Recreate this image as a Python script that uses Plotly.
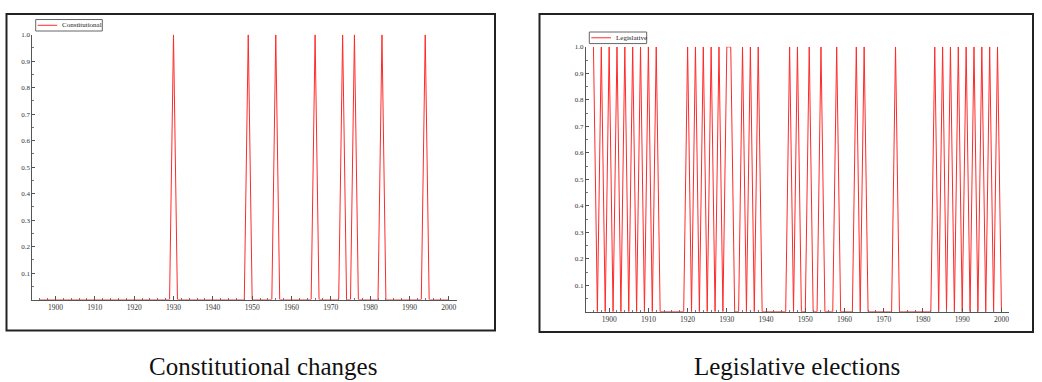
import plotly.graph_objects as go

W, H = 1042, 382

years = list(range(1896, 2001))

constitutional = [
    0, 0, 0, 0,                          # 1896-1899
    0, 0, 0, 0, 0, 0, 0, 0, 0, 0,        # 1900s
    0, 0, 0, 0, 0, 0, 0, 0, 0, 0,        # 1910s
    0, 0, 0, 0, 0, 0, 0, 0, 0, 0,        # 1920s
    1, 0, 0, 0, 0, 0, 0, 0, 0, 0,        # 1930s
    0, 0, 0, 0, 0, 0, 0, 0, 0, 1,        # 1940s
    0, 0, 0, 0, 0, 0, 1, 0, 0, 0,        # 1950s
    0, 0, 0, 0, 0, 0, 1, 0, 0, 0,        # 1960s
    0, 0, 0, 1, 0, 0, 1, 0, 0, 0,        # 1970s
    0, 0, 0, 1, 0, 0, 0, 0, 0, 0,        # 1980s
    0, 0, 0, 0, 1, 0, 0, 0, 0, 0,        # 1990s
    0,                                   # 2000
]

legislative = [
    1, 0, 1, 0,                          # 1896-1899
    1, 0, 1, 0, 1, 0, 1, 0, 1, 0,        # 1900s
    1, 0, 1, 0, 0, 0, 0, 0, 0, 0,        # 1910s
    1, 0, 1, 0, 1, 0, 1, 0, 1, 0,        # 1920s
    1, 1, 0, 0, 1, 0, 1, 0, 1, 0,        # 1930s
    0, 0, 0, 0, 0, 0, 1, 0, 1, 0,        # 1940s
    0, 1, 0, 0, 1, 0, 0, 0, 1, 0,        # 1950s
    0, 0, 0, 1, 0, 1, 0, 0, 0, 0,        # 1960s
    0, 0, 0, 1, 0, 0, 0, 0, 0, 0,        # 1970s
    0, 0, 0, 1, 0, 1, 0, 1, 0, 1,        # 1980s
    0, 1, 0, 1, 0, 1, 0, 1, 0, 1,        # 1990s
    0,                                   # 2000
]

series_names = ["Constitutional", "Legislative"]
captions = ["Constitutional changes", "Legislative elections"]

x_ticks = [1900, 1910, 1920, 1930, 1940, 1950, 1960, 1970, 1980, 1990, 2000]
y_ticks = [0.1, 0.2, 0.3, 0.4, 0.5, 0.6, 0.7, 0.8, 0.9, 1.0]
y_labels = ["0.1", "0.2", "0.3", "0.4", "0.5", "0.6", "0.7", "0.8", "0.9", "1.0"]

SERIF = "Liberation Serif, Times New Roman, serif"
LINE_COLOR = "#ff2a2a"


def px_x(p):
    return p / W


def px_y(p):
    return 1 - p / H


fig = go.Figure()
fig.add_trace(go.Scatter(x=years, y=constitutional, mode="lines", name=series_names[0],
                         line=dict(color=LINE_COLOR, width=1), xaxis="x", yaxis="y",
                         showlegend=False))
fig.add_trace(go.Scatter(x=years, y=legislative, mode="lines", name=series_names[1],
                         line=dict(color=LINE_COLOR, width=1), xaxis="x2", yaxis="y2",
                         showlegend=False))

axis_common_x = dict(
    range=[1894.1, 2002.0], tickvals=x_ticks, ticks="inside", ticklen=4, tickcolor="#555",
    showline=True, linecolor="#555", linewidth=1, showgrid=False, zeroline=False,
    tickfont=dict(family=SERIF, size=7.5, color="#333"),
    minor=dict(dtick=2, tick0=1900, ticks="inside", ticklen=2, tickcolor="#777"),
    fixedrange=True,
)
axis_common_y = dict(
    range=[0, 1], tickvals=y_ticks, ticktext=y_labels, ticks="inside", ticklen=3,
    tickcolor="#555", showline=True, linecolor="#555", linewidth=1, showgrid=False,
    zeroline=False, tickfont=dict(family=SERIF, size=7, color="#333"),
    minor=dict(dtick=0.05, tick0=0, ticks="inside", ticklen=2, tickcolor="#777"),
    fixedrange=True,
)

# legend boxes (pixel geometry): box x0, x1, y0, y1, line x0, x1, text x
legend_geo = [
    (35.7, 102.3, 15.7, 27.3, 37.7, 57.3, 59.5),
    (589.3, 646.7, 28.3, 40.0, 591.3, 611.0, 613.5),
]

shapes = [
    dict(type="rect", xref="paper", yref="paper",
         x0=px_x(6.5), x1=px_x(495), y0=px_y(330), y1=px_y(10),
         line=dict(color="#222", width=2), layer="below"),
    dict(type="rect", xref="paper", yref="paper",
         x0=px_x(539.5), x1=px_x(1033), y0=px_y(331.5), y1=px_y(10),
         line=dict(color="#222", width=2), layer="below"),
]
annotations = []
for name, (bx0, bx1, by0, by1, lx0, lx1, tx) in zip(series_names, legend_geo):
    ym = (by0 + by1) / 2
    shapes.append(dict(type="rect", xref="paper", yref="paper",
                       x0=px_x(bx0), x1=px_x(bx1), y0=px_y(by1), y1=px_y(by0),
                       line=dict(color="#666", width=1), fillcolor="white", layer="above"))
    shapes.append(dict(type="line", xref="paper", yref="paper",
                       x0=px_x(lx0), x1=px_x(lx1), y0=px_y(ym), y1=px_y(ym),
                       line=dict(color=LINE_COLOR, width=1), layer="above"))
    annotations.append(dict(text=name, xref="paper", yref="paper",
                            x=px_x(tx), y=px_y(ym), xanchor="left", yanchor="middle",
                            showarrow=False,
                            font=dict(family=SERIF, size=7, color="#222")))

for cap, cx in zip(captions, [263, 797]):
    annotations.append(dict(text=cap, xref="paper", yref="paper",
                            x=px_x(cx), y=px_y(366), xanchor="center", yanchor="middle",
                            showarrow=False,
                            font=dict(family=SERIF, size=25, color="#111")))

fig.update_layout(
    width=W, height=H,
    margin=dict(l=0, r=0, t=0, b=0),
    paper_bgcolor="white", plot_bgcolor="white",
    showlegend=False,
    xaxis=dict(domain=[px_x(32.3), px_x(456.7)], anchor="y", **axis_common_x),
    yaxis=dict(domain=[px_y(298.7), px_y(31)], anchor="x", **axis_common_y),
    xaxis2=dict(domain=[px_x(586), px_x(1009.3)], anchor="y2", **axis_common_x),
    yaxis2=dict(domain=[px_y(311), px_y(43.3)], anchor="x2", **axis_common_y),
    shapes=shapes,
    annotations=annotations,
)

fig.write_html("out.html",
               config={"displayModeBar": False},
               post_script="document.body.style.margin='0px';"
                           "document.body.style.overflow='hidden';")
